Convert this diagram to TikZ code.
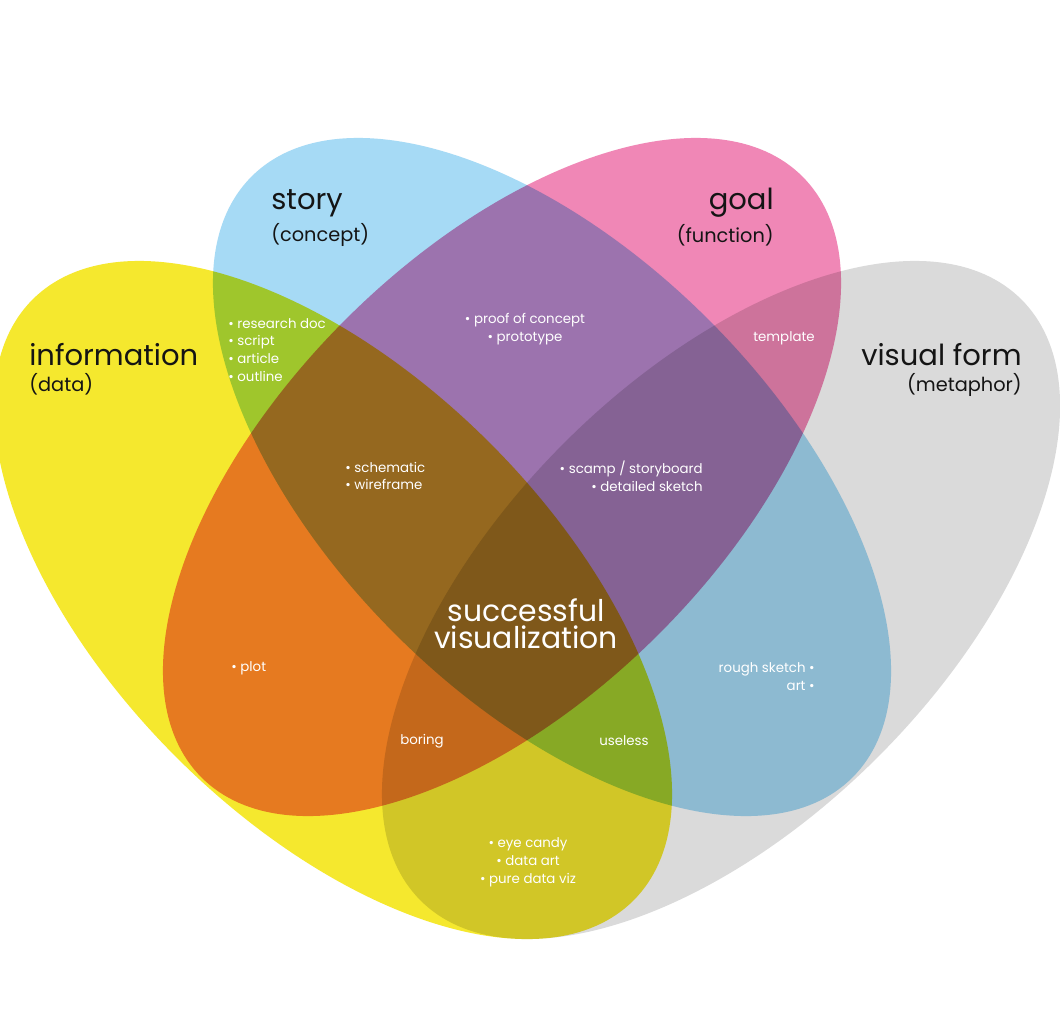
\documentclass[tikz,border=0pt]{standalone}
\usepackage{fontspec}
\setmainfont{Poppins}
\usepackage{xcolor}
\usetikzlibrary{positioning}

\definecolor{infoyellow}{HTML}{F5E82E}
\definecolor{storyblue}{HTML}{A6DAF5}
\definecolor{goalpink}{HTML}{F087B6}
\definecolor{formgray}{HTML}{DADADA}

\begin{document}
\begin{tikzpicture}[x=0.02cm, y=-0.02cm,
    venn/.style={blend mode=multiply},
    title/.style={inner sep=0pt, text=black!92, font=\fontsize{16.5}{18}\selectfont},
    subtitle/.style={inner sep=0pt, text=black!92, font=\fontsize{11}{13}\selectfont},
    item/.style={inner sep=0pt, text=white, font=\fontsize{7.6}{10.2}\selectfont},
    hub/.style={inner sep=0pt, text=white, align=center, font=\fontsize{17}{15.5}\selectfont}]

	\useasboundingbox[fill=white] (0,0) rectangle (1060,1024);
	\clip (0,0) rectangle (1060,1024);

	% Conjuntos
	\begin{scope}[venn]
		\fill[infoyellow, rotate around={-45:(333,600)}] (333,600) ellipse [x radius=8.5cm, y radius=4.44cm];
		\fill[storyblue, rotate around={-45:(552,477)}] (552,477) ellipse [x radius=8.5cm, y radius=4.44cm];
		\fill[goalpink, rotate around={45:(502,477)}] (502,477) ellipse [x radius=8.5cm, y radius=4.44cm];
		\fill[formgray, rotate around={45:(721,600)}] (721,600) ellipse [x radius=8.5cm, y radius=4.44cm];
	\end{scope}

	% Titulos
	\node[title, anchor=west] (story) at (271,203) {story};
	\node[subtitle, below=3.5pt of story.south west, anchor=north west] (concept) {(concept)};

	\node[title, anchor=east] (goal) at (774,203) {goal};
	\node[subtitle, below=3.5pt of goal.south east, anchor=north east] (function) {(function)};

	\node[title, anchor=west] (information) at (29,355) {information};
	\node[subtitle, below=4pt of information.south west, anchor=north west] (data) {(data)};

	\node[title, anchor=east] (visualform) at (1022,355) {visual form};
	\node[subtitle, below=4pt of visualform.south east, anchor=north east] (metaphor) {(metaphor)};

	% Intersecciones
	\node[item, align=left, anchor=west] (research) at (228,350) {• research doc\\• script\\• article\\• outline};
	\node[item, align=center] (proof) at (525,329) {• proof of concept\\• prototype};
	\node[item] (template) at (784,338) {template};
	\node[item, align=left, anchor=west] (schematic) at (345,476) {• schematic\\• wireframe};
	\node[item, align=right, anchor=east] (scamp) at (703,476) {• scamp / storyboard\\• detailed sketch};
	\node[hub] (success) at (526,624) {successful\\visualization};
	\node[item, anchor=west] (plot) at (231,668) {• plot};
	\node[item, align=right, anchor=east] (rough) at (815,677) {rough sketch •\\art •};
	\node[item] (boring) at (422,741) {boring};
	\node[item] (useless) at (624,741) {useless};
	\node[item, align=center] (candy) at (528,862) {• eye candy\\• data art\\• pure data viz};
\end{tikzpicture}
\end{document}
